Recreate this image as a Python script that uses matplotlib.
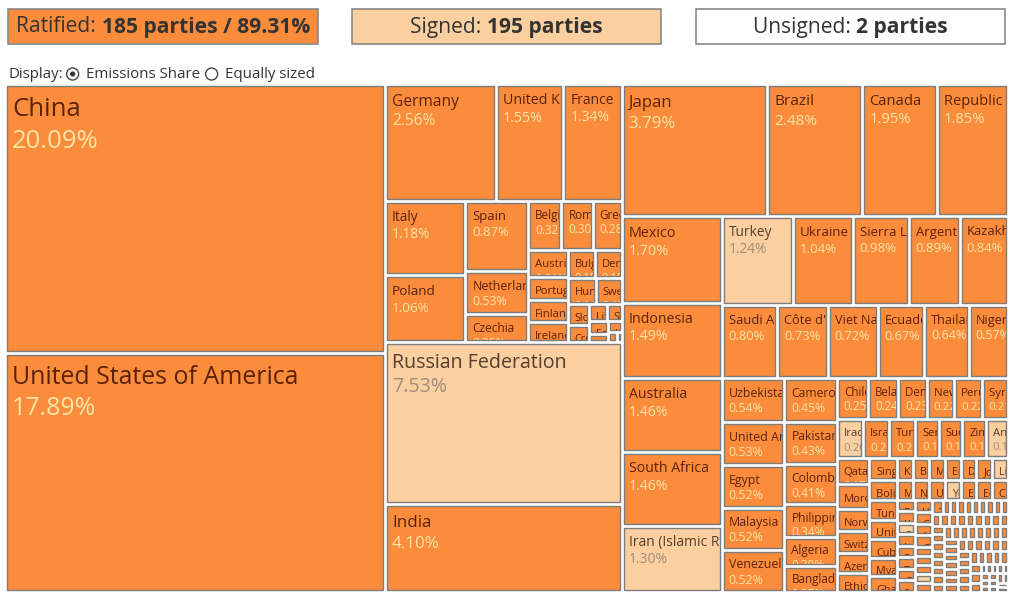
"""
Paris Agreement ratification treemap
"""
import math
import matplotlib
matplotlib.use('Agg')
import matplotlib.pyplot as plt
from matplotlib.patches import Rectangle, Circle

plt.rcParams['font.family'] = ['Open Sans', 'DejaVu Sans']

# ---- data -------------------------------------------------------------
party_names = [
    "China", "United States of America", "Russian Federation", "India", "Japan",
    "Brazil", "Canada", "Republic of Korea", "Mexico", "Indonesia", "Australia",
    "South Africa", "Iran (Islamic Republic of)", "Turkey", "Ukraine", "Sierra Leone",
    "Argentina", "Kazakhstan", "Saudi Arabia", "Côte d'Ivoire", "Viet Nam", "Ecuador",
    "Thailand", "Nigeria", "Uzbekistan", "United Arab Emirates", "Egypt", "Malaysia",
    "Venezuela (Bolivarian Republic of)", "Cameroon", "Pakistan", "Colombia",
    "Philippines", "Algeria", "Bangladesh", "Chile", "Belarus",
    "Democratic People's Republic of Korea", "New Zealand", "Peru",
    "Syrian Arab Republic", "Iraq", "Israel", "Turkmenistan", "Serbia", "Sudan",
    "Zimbabwe", "Angola", "Qatar", "Morocco", "Norway", "Switzerland", "Azerbaijan",
    "Ethiopia", "Singapore", "Bolivia (Plurinational State of)", "Tunisia",
    "United Republic of Tanzania", "Cuba", "Myanmar", "Ghana",
]
party_shares = [
    20.09, 17.89, 7.53, 4.10, 3.79,
    2.48, 1.95, 1.85, 1.70, 1.49, 1.46,
    1.46, 1.30, 1.24, 1.04, 0.98,
    0.89, 0.84, 0.80, 0.73, 0.72, 0.67,
    0.64, 0.57, 0.54, 0.53, 0.52, 0.52,
    0.52, 0.45, 0.43, 0.41,
    0.34, 0.30, 0.27, 0.25, 0.24,
    0.23, 0.22, 0.22,
    0.21, 0.20, 0.20, 0.20, 0.18, 0.18,
    0.18, 0.17, 0.17, 0.16, 0.14, 0.14, 0.13,
    0.12, 0.12, 0.11, 0.11,
    0.11, 0.10, 0.10, 0.09,
]

# small emitters (bottom-right corner, values estimated)
small_names = [
    "Kuwait", "Bosnia and Herzegovina", "Mongolia", "Eritrea", "Dominican Republic",
    "Jordan", "Libya",
    "Mozambique", "Nepal", "Uruguay", "Yemen", "El Salvador", "Equatorial Guinea",
    "Costa Rica",
    "Bahrain", "Kenya", "Oman", "Lebanon", "Paraguay", "Trinidad and Tobago",
    "Guatemala", "Sri Lanka", "Honduras", "Cambodia", "Afghanistan", "Georgia",
    "Panama", "Armenia", "Albania", "Kyrgyzstan", "Republic of Moldova",
    "TFYR Macedonia",
    "Niger", "Burkina Faso", "Guinea", "Tajikistan", "Nicaragua", "Jamaica",
    "Botswana",
    "Brunei Darussalam", "Haiti", "Senegal", "Madagascar", "Malawi", "Mali",
    "Rwanda", "Benin", "Uganda", "Zambia", "Namibia", "Chad",
    "Congo", "Democratic Republic of the Congo", "Gabon", "Mauritania", "Togo",
    "Papua New Guinea", "Mauritius", "Montenegro", "Iceland",
    "Lao People's Democratic Republic", "Swaziland", "Central African Republic",
    "Guyana", "Suriname", "Bahamas", "Barbados", "Belize", "Fiji",
    "Liberia", "Lesotho", "Burundi", "Cabo Verde",
    "Gambia", "Guinea-Bissau", "Djibouti", "Comoros", "Bhutan", "Maldives",
    "Timor-Leste", "Solomon Islands", "Samoa", "Vanuatu", "Tonga", "Kiribati",
    "Micronesia", "Marshall Islands", "Palau", "Nauru", "Tuvalu", "Niue",
    "Cook Islands", "Seychelles", "Saint Lucia", "Grenada", "Dominica", "Monaco",
    "South Sudan", "Somalia", "State of Palestine", "Saint Kitts and Nevis",
    "Saint Vincent and the Grenadines", "Antigua and Barbuda",
    "Andorra", "San Marino", "Sao Tome and Principe", "Liechtenstein",
]
small_shares = [
    0.07, 0.07, 0.07, 0.07, 0.07, 0.07, 0.07,
    0.06, 0.06, 0.06, 0.06, 0.06, 0.06, 0.06,
    0.04, 0.04, 0.04, 0.04, 0.04, 0.04,
    0.04, 0.04, 0.04, 0.04, 0.04, 0.04,
    0.03, 0.03, 0.03, 0.03, 0.03, 0.03,
    0.02, 0.02, 0.02, 0.02, 0.02, 0.02, 0.02, 0.02, 0.02, 0.02,
    0.02, 0.02, 0.02, 0.02, 0.02, 0.02, 0.02, 0.02, 0.02, 0.02,
    0.02, 0.02, 0.02, 0.02, 0.02, 0.02, 0.02, 0.02, 0.02, 0.02,
    0.02, 0.02, 0.02, 0.02, 0.02, 0.02, 0.02, 0.02, 0.02, 0.02,
    0.02, 0.02, 0.02, 0.02, 0.02, 0.02, 0.02, 0.02, 0.02, 0.02,
    0.02, 0.02, 0.02, 0.02, 0.02, 0.02, 0.02, 0.02, 0.02, 0.02,
    0.01, 0.01, 0.01, 0.01, 0.01,
    0.01, 0.01, 0.01, 0.01, 0.01,
    0.01, 0.01, 0.01, 0.01, 0.01,
]

# European Union members (nested block)
eu_names = [
    "Germany", "United Kingdom", "France", "Italy", "Poland", "Spain", "Netherlands",
    "Czechia", "Belgium", "Romania", "Greece", "Austria", "Portugal", "Finland",
    "Ireland", "Bulgaria", "Denmark", "Hungary", "Sweden", "Slovakia", "Croatia",
    "Lithuania", "Slovenia", "Estonia", "Luxembourg", "Latvia", "Cyprus", "Malta",
]
eu_shares = [
    2.56, 1.55, 1.34, 1.18, 1.06, 0.87, 0.53,
    0.35, 0.32, 0.30, 0.28, 0.21, 0.18, 0.17,
    0.16, 0.15, 0.15, 0.14, 0.13, 0.09, 0.07,
    0.06, 0.05, 0.05, 0.03, 0.03, 0.02, 0.01,
]

# signed but not ratified
signed_only = ["Russian Federation", "Iran (Islamic Republic of)", "Turkey", "Iraq",
               "Angola", "Libya", "Yemen", "Oman", "Kyrgyzstan"]
unsigned = []

ratified_parties = 185
ratified_pct = 89.31
signed_parties = 195
unsigned_parties = 2

# ---- style ------------------------------------------------------------
ORANGE = '#fb8c3c'
PEACH = '#fbcf9f'
EDGE = '#7d7d7d'
NAME_DARK = '#5c2208'
SHARE_LIGHT = '#fde4a6'
NAME_PEACH = '#55402f'
SHARE_PEACH = '#a08d7c'
HEAD_TEXT = '#333333'

PAD = 4.0
RATIO = 1.5
TM = (5.0, 84.0, 1008.0, 592.0)   # treemap tile area (px)


def px2pt(px):
    return px * 72.0 / 100.0


def squarify(values, x0, y0, x1, y1, ratio=RATIO):
    """d3 style squarified tiling, returns list of (index, x0, y0, x1, y1)"""
    out = []
    n = len(values)
    value = float(sum(values))
    i0 = i1 = 0
    while i0 < n:
        dx, dy = x1 - x0, y1 - y0
        sum_v = values[i1]
        i1 += 1
        min_v = max_v = sum_v
        alpha = max(dy / dx, dx / dy) / (value * ratio)
        beta = sum_v * sum_v * alpha
        min_ratio = max(max_v / beta, beta / min_v)
        while i1 < n:
            nv = values[i1]
            sum_v += nv
            min_v = min(min_v, nv)
            max_v = max(max_v, nv)
            beta = sum_v * sum_v * alpha
            new_ratio = max(max_v / beta, beta / min_v)
            if new_ratio > min_ratio:
                sum_v -= nv
                break
            min_ratio = new_ratio
            i1 += 1
        if dx < dy:
            ny = y0 + dy * sum_v / value if i1 < n else y1
            cx = x0
            for k in range(i0, i1):
                w = dx * values[k] / sum_v
                out.append((k, cx, y0, cx + w, ny))
                cx += w
            y0 = ny
        else:
            nx = x0 + dx * sum_v / value if i1 < n else x1
            cy = y0
            for k in range(i0, i1):
                h = dy * values[k] / sum_v
                out.append((k, x0, cy, nx, cy + h))
                cy += h
            x0 = nx
        value -= sum_v
        i0 = i1
    return out


# ---- build hierarchy (top level + EU block) ---------------------------
all_names = party_names + small_names
all_shares = party_shares + small_shares
eu_total = sum(eu_shares)
top = [(s, ('party', i)) for i, s in enumerate(all_shares)]
top.append((eu_total, ('eu', None)))
top.sort(key=lambda t: -t[0])   # stable sort like d3

leaves = []   # (name, share, x0, y0, x1, y1)
for k, a0, b0, a1, b1 in squarify([t[0] for t in top], *TM):
    kind, idx = top[k][1]
    if kind == 'eu':
        order = sorted(range(len(eu_shares)), key=lambda j: -eu_shares[j])
        for kk, c0, d0, c1, d1 in squarify([eu_shares[j] for j in order], a0, b0, a1, b1):
            j = order[kk]
            leaves.append((eu_names[j], eu_shares[j], c0, d0, c1, d1))
    else:
        leaves.append((all_names[idx], all_shares[idx], a0, b0, a1, b1))

# ---- figure -----------------------------------------------------------
fig = plt.figure(figsize=(10.24, 6.10), dpi=100)
ax = fig.add_axes([0, 0, 1, 1])
ax.set_xlim(0, 1024)
ax.set_ylim(610, 0)
ax.axis('off')

p = PAD / 2
for name, share, x0, y0, x1, y1 in leaves:
    x0, y0, x1, y1 = x0 + p, y0 + p, x1 - p, y1 - p
    if x1 < x0:
        x0 = x1 = (x0 + x1) / 2
    if y1 < y0:
        y0 = y1 = (y0 + y1) / 2
    if name in signed_only:
        fc, c_name, c_share = PEACH, NAME_PEACH, SHARE_PEACH
    elif name in unsigned:
        fc, c_name, c_share = 'white', '#444444', '#999999'
    else:
        fc, c_name, c_share = ORANGE, NAME_DARK, SHARE_LIGHT
    rect = Rectangle((x0, y0), x1 - x0, y1 - y0, facecolor=fc, edgecolor=EDGE,
                     linewidth=1.0)
    ax.add_patch(rect)

    w, h = x1 - x0, y1 - y0
    if w < 4 or h < 4:
        continue
    fs = 10 + 0.05 * math.sqrt(w * h)
    base = y0 + 4 + fs
    t1 = ax.text(x0 + 5, base, name, fontsize=px2pt(fs), color=c_name,
                 va='baseline', ha='left', clip_on=True)
    t2 = ax.text(x0 + 5, base + 1.25 * fs, f'{share:.2f}%', fontsize=px2pt(fs),
                 color=c_share, va='baseline', ha='left', clip_on=True)
    t1.set_clip_path(rect)
    t2.set_clip_path(rect)

# ---- header -----------------------------------------------------------
renderer = fig.canvas.get_renderer()
head = [
    (8, 318, ORANGE, 'Ratified: ', f'{ratified_parties} parties / {ratified_pct:.2f}%'),
    (352, 661, PEACH, 'Signed: ', f'{signed_parties} parties'),
    (696, 1005, 'white', 'Unsigned: ', f'{unsigned_parties} parties'),
]
for x0, x1, fc, label, bold in head:
    ax.add_patch(Rectangle((x0, 9), x1 - x0, 35, facecolor=fc, edgecolor='#888888',
                           linewidth=1.2))
    ta = ax.text(0, 27, label, fontsize=px2pt(21), color=HEAD_TEXT, va='center')
    tb = ax.text(0, 27, bold, fontsize=px2pt(21), color=HEAD_TEXT, va='center',
                 fontweight='bold')
    wa = ta.get_window_extent(renderer).width
    wb = tb.get_window_extent(renderer).width
    start = (x0 + x1) / 2 - (wa + wb) / 2
    ta.set_x(start)
    tb.set_x(start + wa)

# display options
t = ax.text(8, 74, 'Display:', fontsize=px2pt(15), color=HEAD_TEXT, va='center')
x = 8 + t.get_window_extent(renderer).width + 10
ax.add_patch(Circle((x, 74), 6, facecolor='white', edgecolor='#444444', linewidth=1.0))
ax.add_patch(Circle((x, 74), 2.6, facecolor='#333333', edgecolor='none'))
t = ax.text(x + 13, 74, 'Emissions Share', fontsize=px2pt(15), color=HEAD_TEXT,
            va='center')
x = x + 13 + t.get_window_extent(renderer).width + 12
ax.add_patch(Circle((x, 74), 6, facecolor='white', edgecolor='#444444', linewidth=1.0))
ax.text(x + 13, 74, 'Equally sized', fontsize=px2pt(15), color=HEAD_TEXT, va='center')

fig.savefig('out.png', dpi=100, facecolor='white')
plt.close(fig)
